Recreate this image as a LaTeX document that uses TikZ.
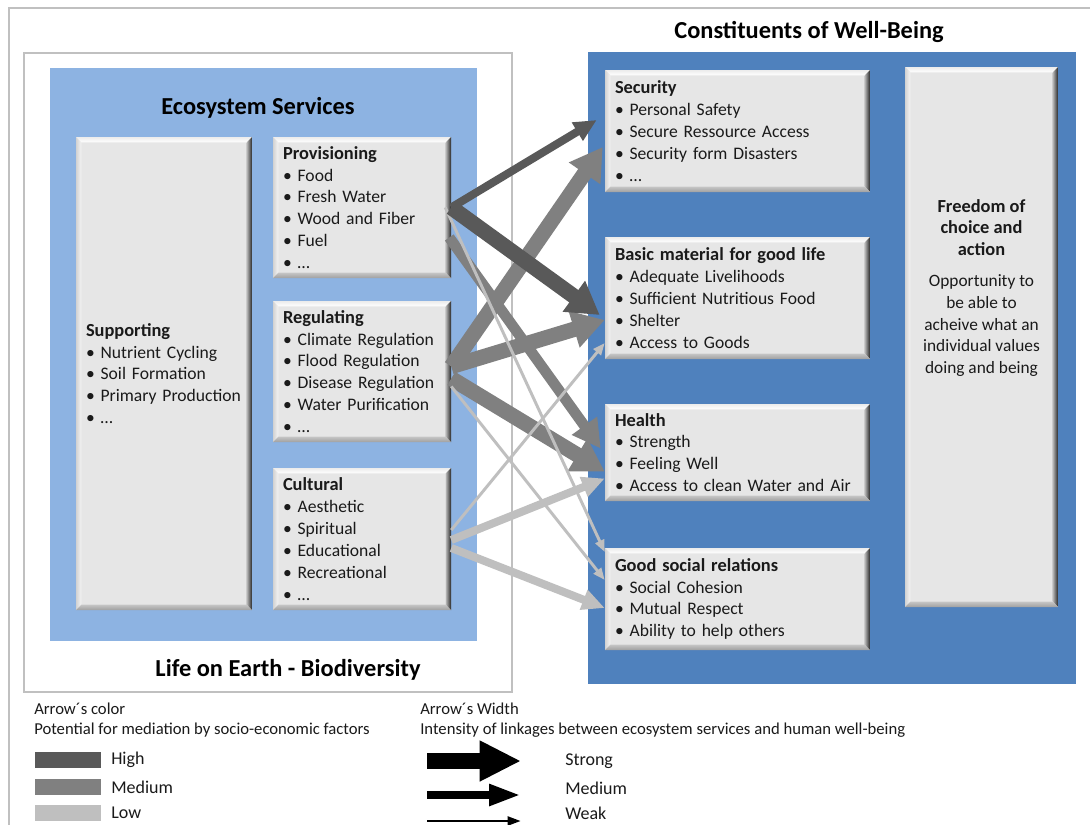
\documentclass[tikz,border=0pt]{standalone}
\usepackage{fontspec}
\setmainfont{Carlito}
\usetikzlibrary{arrows.meta,calc}
\definecolor{lblue}{HTML}{8DB3E2}
\definecolor{dblue}{HTML}{4F81BD}
\definecolor{boxfill}{HTML}{E6E6E6}
\definecolor{frameg}{HTML}{C0C0C0}
\definecolor{hiA}{HTML}{595959}
\definecolor{meA}{HTML}{808080}
\definecolor{loA}{HTML}{BFBFBF}
\definecolor{txt}{HTML}{1A1A1A}
\newcommand\hd[1]{{\fontsize{13.8}{16.4}\selectfont\bfseries #1}}
\begin{document}
\begin{tikzpicture}[x=0.75pt,y=-0.75pt,
  bevel/.style={fill=boxfill, draw=none, inner ysep=0pt, inner xsep=7.5pt, align=left,
    font=\fontsize{13.2}{16.4}\selectfont, text=txt,
    path picture={
      \coordinate (bnw) at (path picture bounding box.north west);
      \coordinate (bne) at (path picture bounding box.north east);
      \coordinate (bsw) at (path picture bounding box.south west);
      \coordinate (bse) at (path picture bounding box.south east);
      \shade[top color=gray!15, bottom color=white] (bnw) -- (bne) -- ([shift={(-4pt,-4pt)}]bne) -- ([shift={(4pt,-4pt)}]bnw) -- cycle;
      \shade[left color=gray!35, right color=gray!8] (bnw) -- ([shift={(4pt,-4pt)}]bnw) -- ([shift={(4pt,4pt)}]bsw) -- (bsw) -- cycle;
      \shade[left color=gray!55, right color=black!85] (bne) -- (bse) -- ([shift={(-4pt,4pt)}]bse) -- ([shift={(-4pt,-4pt)}]bne) -- cycle;
      \shade[top color=gray!45, bottom color=gray!75] (bsw) -- (bse) -- ([shift={(-4pt,4pt)}]bse) -- ([shift={(4pt,4pt)}]bsw) -- cycle;
    }},
  title/.style={font=\fontsize{18.3}{21}\selectfont\bfseries, text=black},
  legtext/.style={font=\fontsize{12.5}{14}\selectfont, text=txt, anchor=west, inner sep=0pt},
  legitem/.style={font=\fontsize{13.5}{15}\selectfont, text=txt, anchor=west, inner sep=0pt},
  swatch/.style={minimum width=49.5pt, minimum height=12pt, inner sep=0pt, draw=none},
  strongA/.style={line width=11.5pt, -{Triangle[width=27pt,length=24pt]}},
  mediumA/.style={line width=6pt, -{Triangle[width=15pt,length=17pt]}},
  medstrongA/.style={line width=8pt, -{Triangle[width=22pt,length=21pt]}},
  weakA/.style={line width=2.2pt, -{Triangle[width=7pt,length=9pt]}},
  framel/.style={draw=frameg, line width=1.6pt}
]
\useasboundingbox (0,0) rectangle (1090,825);
\fill[white] (0,0) rectangle (1090,825);
% outer frame
\draw[framel] (9,830) -- (9,8) -- (1095,8);
% left white frame
\draw[framel] (24,53) rectangle (512,692);
% light blue area
\fill[lblue] (50,68) rectangle (477,641);
% dark blue area
\fill[dblue] (588,52) rectangle (1076,684);

% titles
\node[title] (tes) at (258,108) {Ecosystem Services};
\node[title] (tcw) at (809,32) {Constituents of Well-Being};
\node[title] (tle) at (288,670) {Life on Earth - Biodiversity};

% left boxes
\node[bevel, minimum width=132pt, minimum height=354.75pt, text width=117pt] (sup) at (164,373.5)
 {\hd{Supporting}\\• Nutrient Cycling\\• Soil Formation\\• Primary Production\\• \dots};
\node[bevel, minimum width=133.5pt, minimum height=105.75pt, text width=118.5pt] (prov) at (362,207.5)
 {\hd{Provisioning}\\• Food\\• Fresh Water\\• Wood and Fiber\\• Fuel\\• \dots};
\node[bevel, minimum width=133.5pt, minimum height=105.75pt, text width=118.5pt] (reg) at (362,371.5)
 {\hd{Regulating}\\• Climate Regulation\\• Flood Regulation\\• Disease Regulation\\• Water Purification\\• \dots};
\node[bevel, minimum width=133.5pt, minimum height=106.5pt, text width=118.5pt] (cult) at (362,539)
 {\hd{Cultural}\\• Aesthetic\\• Spiritual\\• Educational\\• Recreational\\• \dots};

% right boxes
\node[bevel, minimum width=198.75pt, minimum height=91.5pt, text width=183.75pt] (sec) at (737.5,131)
 {\hd{Security}\\• Personal Safety\\• Secure Ressource Access\\• Security form Disasters\\• \dots};
\node[bevel, minimum width=198.75pt, minimum height=91.5pt, text width=183.75pt] (basic) at (737.5,298)
 {\hd{Basic material for good life}\\• Adequate Livelihoods\\• Sufficient Nutritious Food\\• Shelter\\• Access to Goods};
\node[bevel, minimum width=198.75pt, minimum height=72.75pt, text width=183.75pt] (health) at (737.5,452.5)
 {\hd{Health}\\• Strength\\• Feeling Well\\• Access to clean Water and Air};
\node[bevel, minimum width=198.75pt, minimum height=76.5pt, text width=183.75pt] (good) at (737.5,599)
 {\hd{Good social relations}\\• Social Cohesion\\• Mutual Respect\\• Ability to help others};
\node[bevel, minimum width=114.75pt, minimum height=405pt] (free) at (981.5,337) {};
\node[font=\fontsize{13}{16.4}\selectfont, text=txt, align=center, inner sep=0pt] (freetxt) at (981.5,288)
 {\hd{Freedom of}\\\hd{choice and}\\\hd{action}\\[6.5pt]Opportunity to\\be able to\\acheive what an\\individual values\\doing and being};

% arrows: medium colour first
\draw[meA, medstrongA] ($(prov.east)+(-2,30)$) -- ($(health.west)+(-4,-4)$);
\draw[meA, strongA] ($(reg.east)+(0,-5)$) -- ($(sec.west)+(-2,16)$);
\draw[meA, strongA] ($(reg.east)+(0,-5)$) -- ($(basic.west)+(0,22)$);
\draw[meA, strongA] ($(reg.east)+(0,7)$) -- ($(health.west)+(0,19)$);
% light
\draw[loA, weakA] ($(prov.east)+(-6,0)$) -- ($(good.west)+(0,-47)$);
\draw[loA, weakA] ($(reg.east)+(0,15)$) -- ($(good.west)+(0,-19)$);
\draw[loA, weakA] ($(cult.east)+(0,-9)$) -- ($(basic.west)+(0,45)$);
\draw[loA, mediumA] ($(cult.east)+(0,1)$) -- ($(health.west)+(0,26)$);
\draw[loA, mediumA] ($(cult.east)+(0,9)$) -- ($(good.west)+(0,9)$);
% dark
\draw[hiA, mediumA] (prov.east) -- ($(sec.west)+(-8,-11)$);
\draw[hiA, strongA] (prov.east) -- ($(basic.west)+(-5,17)$);

% legend
\node[legtext] (lc1) at (34,709) {Arrow´s color};
\node[legtext] (lc2) at (34,730) {Potential for mediation by socio-economic factors};
\node[swatch, fill=hiA] (swh) at (68,760) {};
\node[swatch, fill=meA] (swm) at (68,787) {};
\node[swatch, fill=loA] (swl) at (68,812.5) {};
\node[legitem] (lh) at (111,760) {High};
\node[legitem] (lm) at (111,787) {Medium};
\node[legitem] (ll) at (111,812.5) {Low};

\node[legtext] (lw1) at (420,709) {Arrow´s Width};
\node[legtext] (lw2) at (420,730) {Intensity of linkages between ecosystem services and human well-being};
\coordinate (as1) at (427,761);
\coordinate (ae1) at (521,761);
\coordinate (as2) at (427,795);
\coordinate (ae2) at (521,795);
\coordinate (as3) at (427,821);
\coordinate (ae3) at (521,821);
\draw[black, line width=12.5pt, -{Triangle[width=28.5pt,length=31pt]}] (as1) -- (ae1);
\draw[black, line width=6pt, -{Triangle[width=15pt,length=24pt]}] (as2) -- (ae2);
\draw[black, line width=2.2pt, -{Triangle[width=6.5pt,length=10pt]}] (as3) -- (ae3);
\node[legitem] (lst) at (565,761) {Strong};
\node[legitem] (lme) at (565,788) {Medium};
\node[legitem] (lwe) at (565,813) {Weak};
\end{tikzpicture}
\end{document}
